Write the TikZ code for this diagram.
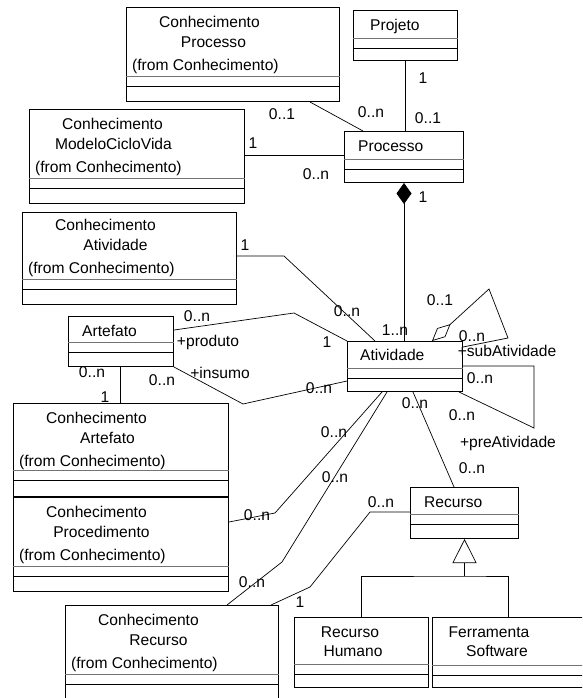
\documentclass[tikz,border=0pt]{standalone}
\usepackage{fontspec}
\setmainfont{Liberation Sans}
\usepackage{tikz}
\usetikzlibrary{calc, arrows.meta}

% class box: name, north west corner, width, height, name part height
\newcommand{\umlclass}[5]{%
\node[classbox, minimum width=#3pt, minimum height=#4pt] (#1) at (#2) {};
\draw[compline, black!55] ($(#1.north west)+(0,#5)$) -- ($(#1.north east)+(0,#5)$);
\draw[compline] ($(#1.north west)+(0,#5+10)$) -- ($(#1.north east)+(0,#5+10)$);
}

\begin{document}
\begin{tikzpicture}[x=1pt,y=-1pt]
% Styles
\tikzset{classbox/.style={draw, line width=1pt, inner sep=0pt, anchor=north west},
compline/.style={line width=0.8pt},
classtxt/.style={inner sep=0pt, font=\fontsize{15.6}{20}\selectfont},
mult/.style={inner sep=0pt, font=\fontsize{15.6}{20}\selectfont},
assoc/.style={line width=0.7pt}}
\useasboundingbox (0,0) rectangle (582,698);
\clip (0,0) rectangle (582,698);
% Draw the classes
\umlclass{ckp}{126,7}{213}{94}{69}
\umlclass{ckm}{29,109}{215}{94}{69}
\umlclass{prj}{353,10}{104}{50}{28}
\umlclass{prc}{344,131}{119}{51}{28}
\umlclass{cka}{22,212}{214}{92}{67}
\umlclass{art}{68,316}{105}{50}{26}
\umlclass{atv}{347,341}{115}{50}{27}
\umlclass{ckr}{13,403}{215}{93}{67}
\umlclass{ckd}{13,497}{215}{94}{69}
\umlclass{rec}{410,487}{108}{51}{27}
\umlclass{ckc}{65,605}{213}{120}{69}
\umlclass{rhu}{294,617}{134}{70}{47}
\umlclass{fsw}{432,617}{152}{70}{48}
% the class names
\node[classtxt, anchor=north west, align=center] (ckp-t) at ($(ckp.north west)+(6,9.4)$) {\hspace*{8pt}Conhecimento\\\hspace*{16pt}Processo\\[3pt](from Conhecimento)};
\node[classtxt, anchor=north west, align=center] (ckm-t) at ($(ckm.north west)+(6,9.4)$) {\hspace*{8pt}Conhecimento\\\hspace*{10pt}ModeloCicloVida\\[3pt](from Conhecimento)};
\node[classtxt, anchor=north west, align=center] (cka-t) at ($(cka.north west)+(6,7.4)$) {\hspace*{8pt}Conhecimento\\\hspace*{28pt}Atividade\\[3pt](from Conhecimento)};
\node[classtxt, anchor=north west, align=center] (ckr-t) at ($(ckr.north west)+(6,9.4)$) {\hspace*{8pt}Conhecimento\\\hspace*{30pt}Artefato\\[3pt](from Conhecimento)};
\node[classtxt, anchor=north west, align=center] (ckd-t) at ($(ckd.north west)+(6,9.4)$) {\hspace*{8pt}Conhecimento\\\hspace*{18pt}Procedimento\\[3pt](from Conhecimento)};
\node[classtxt, anchor=north west, align=center] (ckc-t) at ($(ckc.north west)+(6,9.4)$) {\hspace*{8pt}Conhecimento\\\hspace*{28pt}Recurso\\[3pt](from Conhecimento)};
\node[classtxt, anchor=base west] (prj-t) at ($(prj.north west)+(17,20.5)$) {Projeto};
\node[classtxt, anchor=base west] (prc-t) at ($(prc.north west)+(14,20.5)$) {Processo};
\node[classtxt, anchor=base west] (art-t) at ($(art.north west)+(14,20.5)$) {Artefato};
\node[classtxt, anchor=base west] (atv-t) at ($(atv.north west)+(13,19.5)$) {Atividade};
\node[classtxt, anchor=base west] (rec-t) at ($(rec.north west)+(14,20.5)$) {Recurso};
\node[classtxt, anchor=north, align=center] (rhu-t) at ($(rhu.north west)+(56,9.4)$) {Recurso\\[-1pt]\hspace*{6pt}Humano};
\node[classtxt, anchor=north, align=center] (fsw-t) at ($(fsw.north west)+(57,9.4)$) {Ferramenta\\[-1pt]\hspace*{16pt}Software};
% Processo associations
\draw[assoc] ($(ckp.south west)+(184,0)$) -- ($(prc.north west)+(19,0)$);
\draw[assoc] ($(ckm.north east)+(0,46)$) -- ($(prc.north west)+(0,24)$);
\draw[assoc] (prj.south) -- (prj.south |- prc.north);
\draw[assoc, {Diamond[length=21pt,width=15pt]}-] (prc.south) -- (prc.south |- atv.north);
% Atividade associations
\draw[assoc] ($(cka.north east)+(0,44)$) -- ++(47,0) -- ($(atv.north west)+(28,0)$);
\draw[assoc] ($(art.north east)+(0,14)$) -- ++(120,-17) -- (atv.north west);
\draw[assoc] (art.south east) -- ++(69,37) -- ($(atv.south west)+(0,-11)$);
\draw[assoc] ($(art.south west)+(52,0)$) -- ($(ckr.north west)+(107,0)$);
\draw[assoc, {Diamond[open,length=25pt,width=12pt]}-] ($(atv.north west)+(85,0)$) -- ++(57,-52) -- ++(19,49) -- ($(atv.north east)+(0,6)$);
\draw[assoc] ($(atv.north east)+(0,25)$) -- ++(71,0) -- ++(0,62) -- ($(atv.south east)+(-4,0)$);
\draw[assoc] ($(atv.south west)+(35,0)$) -- ++(-107,121) -- ($(ckd.north east)+(0,25)$);
\draw[assoc] ($(atv.south west)+(40,0)$) -- ++(-105,170) -- ($(ckc.north west)+(162,0)$);
\draw[assoc] ($(atv.south west)+(66,0)$) -- ($(rec.north west)+(44,0)$);
% Recurso
\draw[assoc] ($(rec.north west)+(0,25)$) -- ++(-40,0) -- ++(-60,75) -- ($(ckc.north east)+(-8,0)$);
\coordinate (gen) at ($(rec.south)+(0,37)$);
\draw[assoc, -{Triangle[open,length=24pt,width=24pt]}] (gen) -- (rec.south);
\draw[assoc] (rhu.north) |- (gen) -| (fsw.north);
% the multiplicities
\node[mult] (m-ckp) at (282,114) {0..1};
\node[mult] (m-prc1) at (371,112) {0..n};
\node[mult] (m-prj) at (423,78) {1};
\node[mult] (m-prc2) at (428,118) {0..1};
\node[mult] (m-ckm) at (253,143) {1};
\node[mult] (m-prc3) at (316,174) {0..n};
\node[mult] (m-prc4) at (423,197) {1};
\node[mult] (m-atv1) at (395,330) {1..n};
\node[mult] (m-cka) at (245,245) {1};
\node[mult] (m-atv2) at (347,311) {0..n};
\node[mult] (m-art1) at (197,316) {0..n};
\node[mult] (r-prod) at (208,342) {+produto};
\node[mult] (m-atv3) at (327,342) {1};
\node[mult] (m-art2) at (162,380) {0..n};
\node[mult] (r-ins) at (220,373) {+insumo};
\node[mult] (m-atv4) at (319,388) {0..n};
\node[mult] (m-art3) at (92,372) {0..n};
\node[mult] (m-ckr) at (105,397) {1};
\node[mult] (m-sub1) at (440,300) {0..1};
\node[mult] (m-sub2) at (472,336) {0..n};
\node[mult] (r-sub) at (507,351) {+subAtividade};
\node[mult] (m-pre1) at (480,378) {0..n};
\node[mult] (m-pre2) at (462,415) {0..n};
\node[mult] (r-pre) at (508,443) {+preAtividade};
\node[mult] (m-atv5) at (415,403) {0..n};
\node[mult] (m-rec1) at (472,468) {0..n};
\node[mult] (m-atv6) at (334,432) {0..n};
\node[mult] (m-ckd) at (257,515) {0..n};
\node[mult] (m-atv7) at (335,477) {0..n};
\node[mult] (m-ckc1) at (252,582) {0..n};
\node[mult] (m-rec2) at (381,502) {0..n};
\node[mult] (m-ckc2) at (300,602) {1};
\end{tikzpicture}
\end{document}
